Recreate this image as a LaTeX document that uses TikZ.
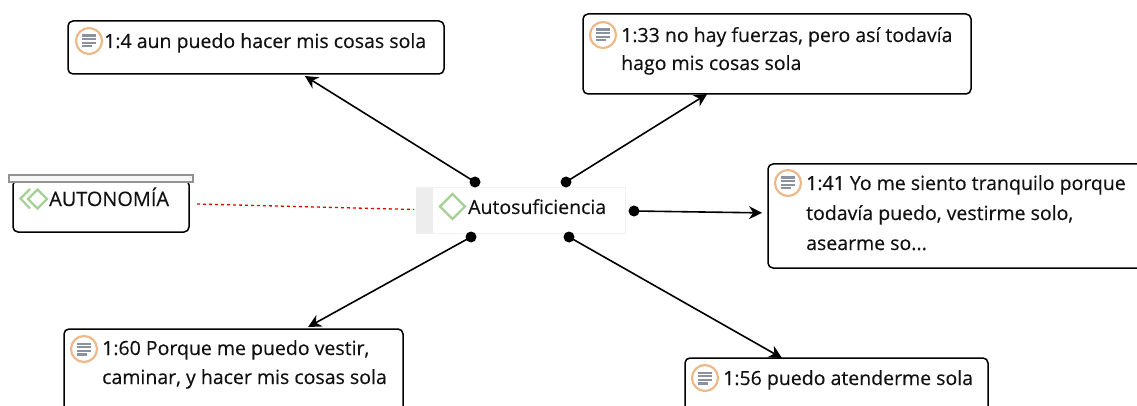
\documentclass[tikz,border=0pt]{standalone}
\usepackage{fontspec}
\setmainfont[FakeBold=0.3]{Open Sans}
\usetikzlibrary{calc,arrows.meta,shapes.geometric}
\definecolor{ringc}{HTML}{EDB98A}
\definecolor{linec}{HTML}{8A92A0}
\definecolor{diac}{HTML}{A6D196}
\definecolor{txtc}{HTML}{111111}
\tikzset{
  box/.style={draw=black,line width=1.5pt,rounded corners=5pt,fill=white,anchor=north west,inner sep=0pt,outer sep=0pt},
  lbl/.style={anchor=base west,inner sep=0pt,text=txtc,font=\fontsize{19.5}{22}\selectfont},
  dotn/.style={circle,fill=black,inner sep=0pt,minimum size=11pt},
  conn/.style={line width=1.6pt,-{Stealth[length=13pt,width=13pt]}},
  ring/.style={circle,draw=ringc,line width=2.2pt,fill=white,inner sep=0pt,minimum size=26pt},
  diam/.style={diamond,draw=diac,line width=2.2pt,inner sep=0pt,minimum size=26pt}
}
\newcommand{\docicon}[2]{%
  \node[ring] (#1) at (#2) {};
  \foreach \yy/\xa/\xb in {5.4/-7/7,1.8/-7/7,-1.8/-7/7,-5.4/-7/3}{
    \draw[linec,line width=2.2pt] ($(#1)+(\xa pt,\yy pt)$) -- ($(#1)+(\xb pt,\yy pt)$);
  }%
}
\begin{document}
\begin{tikzpicture}[x=1pt,y=-1pt]
\useasboundingbox (0,0) rectangle (1137,406);
% note boxes
\node[box,minimum width=376pt,minimum height=53pt] (boxA) at (68,21) {};
\node[box,minimum width=388pt,minimum height=80pt] (boxB) at (583,14) {};
\node[box,minimum width=376pt,minimum height=104pt] (boxC) at (768,164) {};
\node[box,minimum width=339pt,minimum height=84pt] (boxD) at (64,329) {};
\node[box,minimum width=303pt,minimum height=60pt] (boxE) at (685,358) {};
% icons
\docicon{iconA}{89,41}
\docicon{iconB}{603,35}
\docicon{iconC}{788,183}
\docicon{iconD}{84,349}
\docicon{iconE}{705,378}
% texts
\node[lbl] (txtA) at (104,48) {1:4 aun puedo hacer mis cosas sola};
\node[lbl] (txtB1) at (621,42) {1:33 no hay fuerzas, pero así todavía};
\node[lbl] (txtB2) at (621,70) {hago mis cosas sola};
\node[lbl] (txtC1) at (806,190) {1:41 Yo me siento tranquilo porque};
\node[lbl] (txtC2) at (806,220) {todavía puedo, vestirme solo,};
\node[lbl] (txtC3) at (806,250) {asearme so...};
\node[lbl] (txtD1) at (102,355) {1:60 Porque me puedo vestir,};
\node[lbl] (txtD2) at (102,384) {caminar, y hacer mis cosas sola};
\node[lbl] (txtE) at (723,385) {1:56 puedo atenderme sola};
% AUTONOMIA
\node[box,minimum width=176pt,minimum height=52pt] (boxP) at (13,180) {};
\node[draw=gray!85,line width=1.6pt,fill=black!3,anchor=north west,inner sep=0pt,outer sep=0pt,minimum width=184pt,minimum height=7pt] (barP) at (9,175) {};
\node[lbl,font=\fontsize{19.9}{22}\selectfont] (txtP) at (49,206) {AUTONOMÍA};
\node[diam,minimum size=20pt] (diaP) at (37.5,199) {};
\draw[diac,line width=2.2pt] (30,189) -- (20.5,198.5) -- (30,208.5);
% centre node
\node[draw=black!6,line width=1pt,fill=white,anchor=north west,inner sep=0pt,outer sep=0pt,minimum width=209pt,minimum height=45pt] (ctr) at (416,188) {};
\fill[black!7] (ctr.north west) rectangle ($(ctr.south west)+(17,0)$);
\node[diam] (diaC) at (452.5,206.5) {};
\node[lbl] (txtCtr) at (468,214) {Autosuficiencia};
% dots
\node[dotn] (d1) at (475,182) {};
\node[dotn] (d2) at (566,182) {};
\node[dotn] (d3) at (634,211) {};
\node[dotn] (d4) at (471,237) {};
\node[dotn] (d5) at (569,237) {};
% connectors
\draw[conn] (d1.center) -- ($(boxA.south west)!0.63!(boxA.south east)+(0,2)$);
\draw[conn] (d2.center) -- ($(boxB.south west)!0.32!(boxB.south east)$);
\draw[conn] (d3.center) -- ($(boxC.north west)!0.47!(boxC.south west)+(-6,0)$);
\draw[conn] (d4.center) -- ($(boxD.north west)!0.72!(boxD.north east)+(0,-2)$);
\draw[conn] (d5.center) -- ($(boxE.north west)!0.32!(boxE.north east)$);
\draw[red!90!black,line width=1.3pt,dash pattern=on 3pt off 3pt] ($(boxP.east)+(8,-2)$) -- ($(ctr.west)+(-2,-1)$);
\end{tikzpicture}
\end{document}
